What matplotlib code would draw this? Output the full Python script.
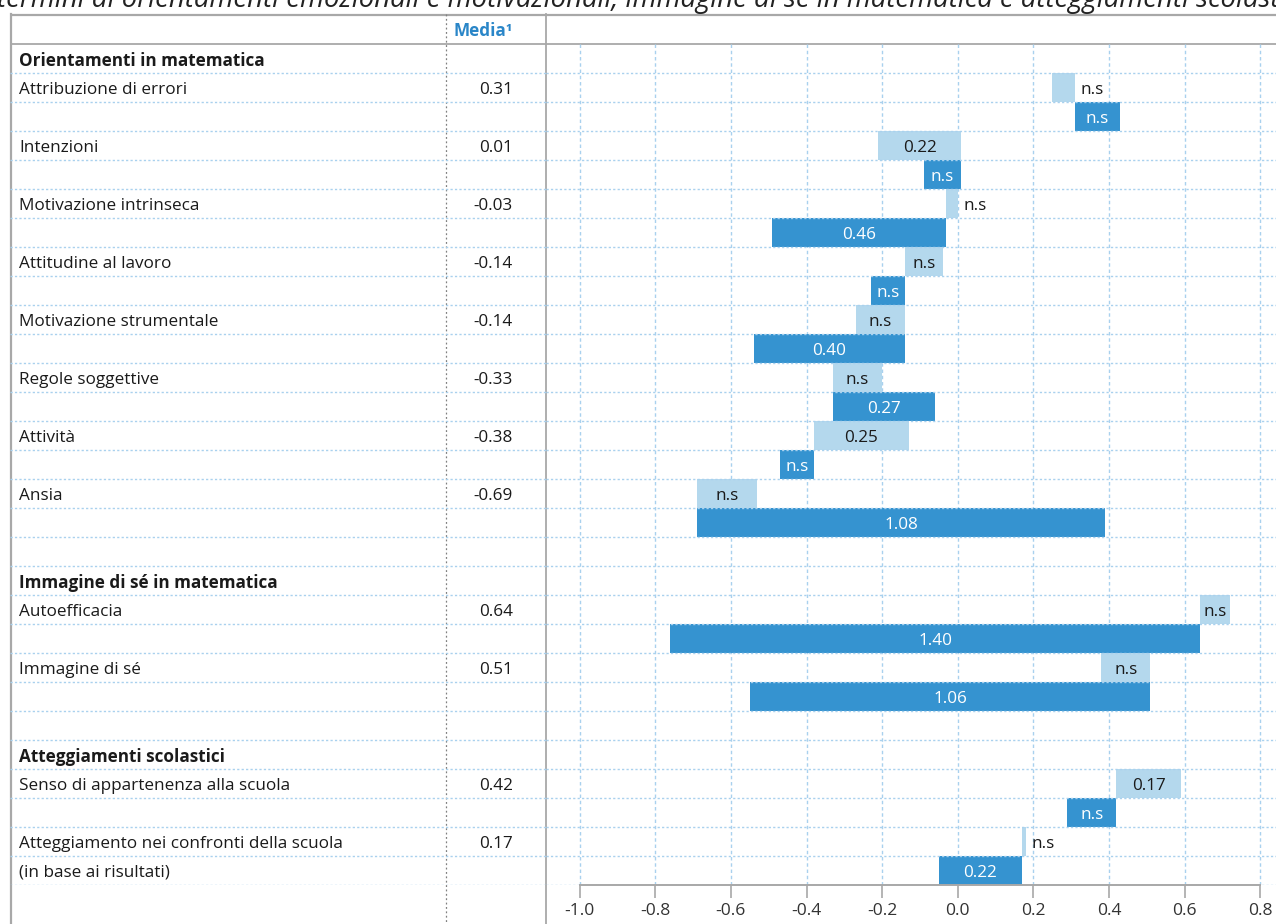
import matplotlib
matplotlib.use("Agg")
import matplotlib.pyplot as plt

# ---------------- data ----------------
title = ("termini di orientamenti emozionali e motivazionali, immagine di sé "
         "in matematica e atteggiamenti scolastici")
media_header = "Media¹"
group_titles = ["Orientamenti in matematica", "Immagine di sé in matematica",
                "Atteggiamenti scolastici"]
group_sizes = [8, 2, 2]
labels = ["Attribuzione di errori", "Intenzioni", "Motivazione intrinseca",
          "Attitudine al lavoro", "Motivazione strumentale", "Regole soggettive",
          "Attività", "Ansia", "Autoefficacia", "Immagine di sé",
          "Senso di appartenenza alla scuola",
          "Atteggiamento nei confronti della scuola"]
sublabels = ["", "", "", "", "", "", "", "", "", "", "", "(in base ai risultati)"]
media = [0.31, 0.01, -0.03, -0.14, -0.14, -0.33, -0.38, -0.69, 0.64, 0.51, 0.42, 0.17]
diff_light = [-0.06, -0.22, 0.03, 0.10, -0.13, 0.13, 0.25, 0.16, 0.08, -0.13, 0.17, 0.01]
diff_dark = [0.12, -0.10, -0.46, -0.09, -0.40, 0.27, -0.09, 1.08, -1.40, -1.06, -0.13, -0.22]
sig_light = [False, True, False, False, False, False, True, False, False, False, True, False]
sig_dark = [False, False, True, False, True, True, False, True, True, True, False, True]
xticks = [-1.0, -0.8, -0.6, -0.4, -0.2, 0.0, 0.2, 0.4, 0.6, 0.8]

# ---------------- style ----------------
W, H, DPI = 1276, 924, 100
LIGHT = "#B4D8ED"
DARK = "#3593D0"
GRID = "#A9D1EE"
FRAME = "#A8A8A8"
TXT = "#1A1A1A"
BLUE_TXT = "#2A86C8"
FS = 12.3
DY = 0.07

plt.rcParams["font.family"] = ["Open Sans", "DejaVu Sans"]
plt.rcParams["axes.unicode_minus"] = False

fig = plt.figure(figsize=(W / DPI, H / DPI), dpi=DPI)


def px_rect(x0, y0, x1, y1):
    return [x0 / W, 1 - y1 / H, (x1 - x0) / W, (y1 - y0) / H]


TOP, ROW = 44, 29
NROWS = sum(1 + 2 * n for n in group_sizes) + len(group_sizes) - 1
BOT = TOP + ROW * NROWS
LEFT_FRAME, MEDIA_SEP, CHART_LEFT = 10, 445.5, 546
X0_PX, SCALE = 957.7, 378.0

# background axes (pixel coordinates) for frame and title
bg = fig.add_axes([0, 0, 1, 1])
bg.set_xlim(0, W)
bg.set_ylim(H, 0)
bg.axis("off")
bg.set_zorder(0)

bg.text(-3, 7.5, title, fontsize=19.8, style="italic", color="#222222",
        ha="left", va="baseline")
bg.plot([LEFT_FRAME, W], [14.5, 14.5], color=FRAME, lw=1.6, solid_capstyle="butt")
bg.plot([LEFT_FRAME, W], [TOP, TOP], color=FRAME, lw=1.3, solid_capstyle="butt")
bg.plot([LEFT_FRAME + 0.5, LEFT_FRAME + 0.5], [14, H], color=FRAME, lw=1.6)
bg.plot([CHART_LEFT, CHART_LEFT], [14, H], color=FRAME, lw=1.3)
bg.plot([MEDIA_SEP, MEDIA_SEP], [14, H], color="#808080", lw=0.9,
        ls=(0, (1.5, 2.0)))
bg.text(513, 30.5, media_header, fontsize=FS, fontweight="bold", color=BLUE_TXT,
        ha="right", va="center")

# row layout
header_rows, rows_light, rows_dark = [], [], []
r = 0
for gi, n in enumerate(group_sizes):
    header_rows.append(r)
    r += 1
    for _ in range(n):
        rows_light.append(r)
        rows_dark.append(r + 1)
        r += 2
    if gi < len(group_sizes) - 1:
        r += 1

# chart axes
ax = fig.add_axes(px_rect(CHART_LEFT, TOP, W, BOT))
ax.set_zorder(2)
ax.patch.set_alpha(0)
ax.set_xlim((CHART_LEFT - X0_PX) / SCALE, (W - X0_PX) / SCALE)
ax.set_ylim(NROWS - 0.5, -0.5)

# table axes sharing the rows
tab = fig.add_axes(px_rect(LEFT_FRAME, TOP, CHART_LEFT, BOT), sharey=ax)
tab.set_zorder(1)
tab.patch.set_alpha(0)
tab.set_xlim(LEFT_FRAME, CHART_LEFT)
tab.axis("off")

dots = (0, (1.6, 1.6))
for k in range(NROWS):
    ax.axhline(k + 0.5, color=GRID, lw=1.0, ls=dots, zorder=4)
    tab.axhline(k + 0.5, color=GRID, lw=1.0, ls=dots, zorder=1)

ax.set_xticks(xticks)
ax.set_xticklabels([f"{t:.1f}" for t in xticks])
ax.set_yticks([])
ax.grid(axis="x", color=GRID, lw=1.0, ls=(0, (2.5, 2.0)))
ax.set_axisbelow(True)
for s in ["top", "left", "right"]:
    ax.spines[s].set_visible(False)
ax.spines["bottom"].set_color(FRAME)
ax.spines["bottom"].set_linewidth(1.4)
ax.spines["bottom"].set_bounds(xticks[0], xticks[-1])
ax.spines["bottom"].set_zorder(5)
ax.tick_params(axis="x", direction="out", length=9, width=1.2, color=FRAME,
               labelsize=12.6, labelcolor="#333333", pad=4)

ax.barh(rows_light, diff_light, left=media, height=1.0, color=LIGHT, zorder=3)
ax.barh(rows_dark, diff_dark, left=media, height=1.0, color=DARK, zorder=3)


def bar_label(row, m, d, sig, color):
    txt = f"{abs(d):.2f}" if sig else "n.s"
    if abs(d) >= 0.07:
        ax.text(m + d / 2, row + DY, txt, ha="center", va="center", fontsize=FS,
                color=color, zorder=6)
    else:
        ax.annotate(txt, (max(m, m + d), row + DY), xytext=(4.0, 0),
                    textcoords="offset points", ha="left", va="center",
                    fontsize=FS, color=TXT, zorder=6)


for i in range(len(labels)):
    bar_label(rows_light[i], media[i], diff_light[i], sig_light[i], TXT)
    bar_label(rows_dark[i], media[i], diff_dark[i], sig_dark[i], "white")

# table text
for gt, hr in zip(group_titles, header_rows):
    tab.text(19, hr + DY, gt, fontsize=FS, fontweight="bold", color=TXT,
             ha="left", va="center")
for i, lab in enumerate(labels):
    tab.text(19, rows_light[i] + DY, lab, fontsize=FS, color=TXT,
             ha="left", va="center")
    if sublabels[i]:
        tab.text(19, rows_dark[i] + DY, sublabels[i], fontsize=FS, color=TXT,
                 ha="left", va="center")
    tab.text(513, rows_light[i] + DY, f"{media[i]:.2f}", fontsize=FS, color=TXT,
             ha="right", va="center")

fig.savefig("out.png", dpi=DPI)
